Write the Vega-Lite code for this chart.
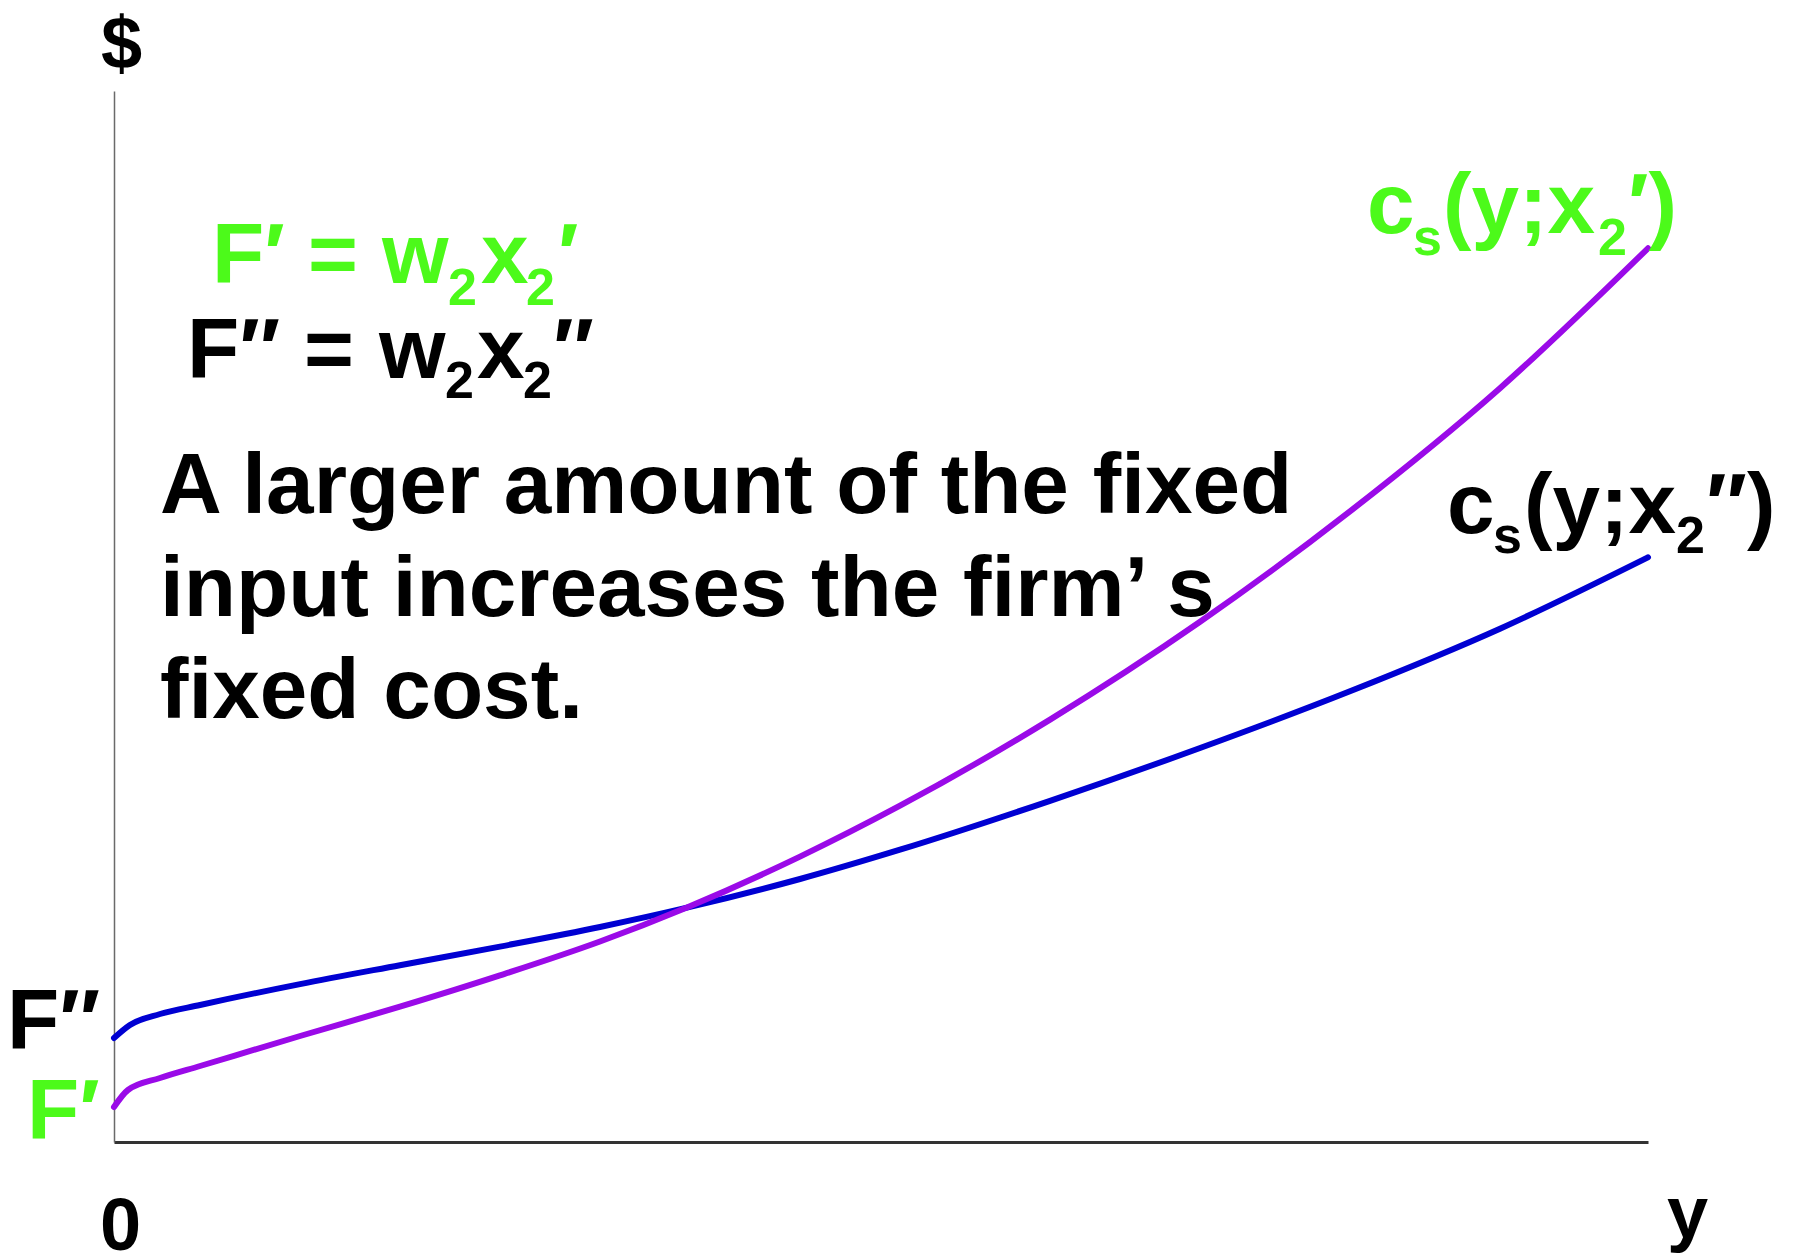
{
  "$schema": "https://vega.github.io/schema/vega-lite/v6.json",
  "width": 1534,
  "height": 1051,
  "autosize": {"type": "none"},
  "padding": {"left": 114, "top": 91, "right": 146, "bottom": 112},
  "background": "white",
  "datasets": {
    "curves": [
      {"output": 0, "cost": 10.4, "curve": "c_s(y;x2″)"},
      {"output": 1.04, "cost": 11.7, "curve": "c_s(y;x2″)"},
      {"output": 3.0, "cost": 12.8, "curve": "c_s(y;x2″)"},
      {"output": 5.61, "cost": 13.7, "curve": "c_s(y;x2″)"},
      {"output": 12.13, "cost": 15.79, "curve": "c_s(y;x2″)"},
      {"output": 18.64, "cost": 17.68, "curve": "c_s(y;x2″)"},
      {"output": 25.16, "cost": 19.54, "curve": "c_s(y;x2″)"},
      {"output": 31.68, "cost": 21.5, "curve": "c_s(y;x2″)"},
      {"output": 37.35, "cost": 23.43, "curve": "c_s(y;x2″)"},
      {"output": 44.72, "cost": 26.3, "curve": "c_s(y;x2″)"},
      {"output": 51.24, "cost": 29.23, "curve": "c_s(y;x2″)"},
      {"output": 61.02, "cost": 34.12, "curve": "c_s(y;x2″)"},
      {"output": 70.8, "cost": 39.4, "curve": "c_s(y;x2″)"},
      {"output": 80.57, "cost": 45.07, "curve": "c_s(y;x2″)"},
      {"output": 90.35, "cost": 51.33, "curve": "c_s(y;x2″)"},
      {"output": 100, "cost": 58.47, "curve": "c_s(y;x2″)"},
      {"output": 0, "cost": 3.5, "curve": "c_s(y;x2′)"},
      {"output": 0.91, "cost": 5.2, "curve": "c_s(y;x2′)"},
      {"output": 3.0, "cost": 6.4, "curve": "c_s(y;x2′)"},
      {"output": 5.61, "cost": 7.6, "curve": "c_s(y;x2′)"},
      {"output": 12.13, "cost": 10.6, "curve": "c_s(y;x2′)"},
      {"output": 18.64, "cost": 13.53, "curve": "c_s(y;x2′)"},
      {"output": 25.16, "cost": 16.66, "curve": "c_s(y;x2′)"},
      {"output": 31.68, "cost": 20.05, "curve": "c_s(y;x2′)"},
      {"output": 37.35, "cost": 23.45, "curve": "c_s(y;x2′)"},
      {"output": 44.72, "cost": 28.54, "curve": "c_s(y;x2′)"},
      {"output": 51.24, "cost": 33.63, "curve": "c_s(y;x2′)"},
      {"output": 61.02, "cost": 42.24, "curve": "c_s(y;x2′)"},
      {"output": 70.8, "cost": 52.02, "curve": "c_s(y;x2′)"},
      {"output": 80.57, "cost": 63.06, "curve": "c_s(y;x2′)"},
      {"output": 90.35, "cost": 75.38, "curve": "c_s(y;x2′)"},
      {"output": 100, "cost": 89.37, "curve": "c_s(y;x2′)"}
    ],
    "bigText": [
      {"x": 3.0, "y": 62.9, "text": "A larger amount of the fixed", "group": "note"},
      {"x": 3.0, "y": 52.6, "text": "input increases the firm’ s", "group": "note"},
      {"x": 3.0, "y": 42.4, "text": "fixed cost.", "group": "note"},
      {"x": 6.39, "y": 85.9, "text": "F′", "group": "x2′"},
      {"x": 12.65, "y": 85.9, "text": "=", "group": "x2′"},
      {"x": 17.47, "y": 85.9, "text": "w", "group": "x2′"},
      {"x": 23.92, "y": 85.9, "text": "x", "group": "x2′"},
      {"x": 28.94, "y": 85.9, "text": "′", "group": "x2′"},
      {"x": 4.76, "y": 76.4, "text": "F″", "group": "x2″"},
      {"x": 12.39, "y": 76.4, "text": "=", "group": "x2″"},
      {"x": 17.28, "y": 76.4, "text": "w", "group": "x2″"},
      {"x": 23.66, "y": 76.4, "text": "x", "group": "x2″"},
      {"x": 28.62, "y": 76.4, "text": "″", "group": "x2″"},
      {"x": 81.68, "y": 90.9, "text": "c", "group": "x2′"},
      {"x": 86.64, "y": 90.9, "text": "(y;x", "group": "x2′"},
      {"x": 98.7, "y": 90.9, "text": "′)", "group": "x2′"},
      {"x": 86.9, "y": 60.9, "text": "c", "group": "x2″"},
      {"x": 91.92, "y": 60.9, "text": "(y;x", "group": "x2″"},
      {"x": 103.78, "y": 60.9, "text": "″)", "group": "x2″"},
      {"x": -6.98, "y": 9.3, "text": "F″", "group": "x2″"},
      {"x": -5.67, "y": 0.3, "text": "F′", "group": "x2′"}
    ],
    "subText": [
      {"x": 21.77, "y": 83.7, "text": "2", "group": "x2′"},
      {"x": 26.86, "y": 83.7, "text": "2", "group": "x2′"},
      {"x": 21.58, "y": 74.4, "text": "2", "group": "x2″"},
      {"x": 26.66, "y": 74.4, "text": "2", "group": "x2″"},
      {"x": 84.68, "y": 88.7, "text": "s", "group": "x2′"},
      {"x": 96.74, "y": 88.7, "text": "2", "group": "x2′"},
      {"x": 89.9, "y": 58.9, "text": "s", "group": "x2″"},
      {"x": 101.83, "y": 58.9, "text": "2", "group": "x2″"}
    ],
    "axisText": [
      {"x": -0.85, "y": 107.4, "text": "$"},
      {"x": -0.91, "y": -10.8, "text": "0"},
      {"x": 101.24, "y": -9.6, "text": "y"}
    ]
  },
  "layer": [
    {
      "data": {"name": "curves"},
      "mark": {"type": "line", "strokeWidth": 6, "interpolate": "monotone", "strokeCap": "round"},
      "encoding": {
        "x": {"field": "output", "type": "quantitative", "scale": {"domain": [0, 100], "nice": false, "zero": false}, "axis": {"title": null}},
        "y": {"field": "cost", "type": "quantitative", "scale": {"domain": [0, 105.1], "nice": false, "zero": false}, "axis": {"title": null}},
        "color": {"field": "curve", "type": "nominal", "scale": {"domain": ["c_s(y;x2′)", "c_s(y;x2″)"], "range": ["#9a0ae8", "#0000d2"]}, "legend": null}
      }
    },
    {
      "data": {"name": "bigText"},
      "mark": {"type": "text", "font": "Liberation Sans", "fontWeight": "bold", "fontSize": 85.5, "align": "left", "baseline": "alphabetic"},
      "encoding": {
        "x": {"field": "x", "type": "quantitative", "scale": {"domain": [0, 100], "nice": false, "zero": false}, "axis": {"title": null}},
        "y": {"field": "y", "type": "quantitative", "scale": {"domain": [0, 105.1], "nice": false, "zero": false}, "axis": {"title": null}},
        "text": {"field": "text"},
        "color": {"field": "group", "type": "nominal", "scale": {"domain": ["x2′", "x2″", "note"], "range": ["#4cfa1a", "#000000", "#000000"]}, "legend": null}
      }
    },
    {
      "data": {"name": "subText"},
      "mark": {"type": "text", "font": "Liberation Sans", "fontWeight": "bold", "fontSize": 52, "align": "left", "baseline": "alphabetic"},
      "encoding": {
        "x": {"field": "x", "type": "quantitative", "scale": {"domain": [0, 100], "nice": false, "zero": false}, "axis": {"title": null}},
        "y": {"field": "y", "type": "quantitative", "scale": {"domain": [0, 105.1], "nice": false, "zero": false}, "axis": {"title": null}},
        "text": {"field": "text"},
        "color": {"field": "group", "type": "nominal", "scale": {"domain": ["x2′", "x2″", "note"], "range": ["#4cfa1a", "#000000", "#000000"]}, "legend": null}
      }
    },
    {
      "data": {"name": "axisText"},
      "mark": {"type": "text", "font": "Liberation Sans", "fontWeight": "bold", "fontSize": 74, "align": "left", "baseline": "alphabetic", "color": "#000000"},
      "encoding": {
        "x": {"field": "x", "type": "quantitative", "scale": {"domain": [0, 100], "nice": false, "zero": false}, "axis": {"title": null}},
        "y": {"field": "y", "type": "quantitative", "scale": {"domain": [0, 105.1], "nice": false, "zero": false}, "axis": {"title": null}},
        "text": {"field": "text"}
      }
    }
  ],
  "resolve": {"scale": {"color": "independent"}},
  "config": {
    "view": {"stroke": null},
    "axis": {"grid": false, "ticks": false, "labels": false, "title": null},
    "axisX": {"domainColor": "#333333", "domainWidth": 3},
    "axisY": {"domainColor": "#6a6a6a", "domainWidth": 1.5}
  }
}
